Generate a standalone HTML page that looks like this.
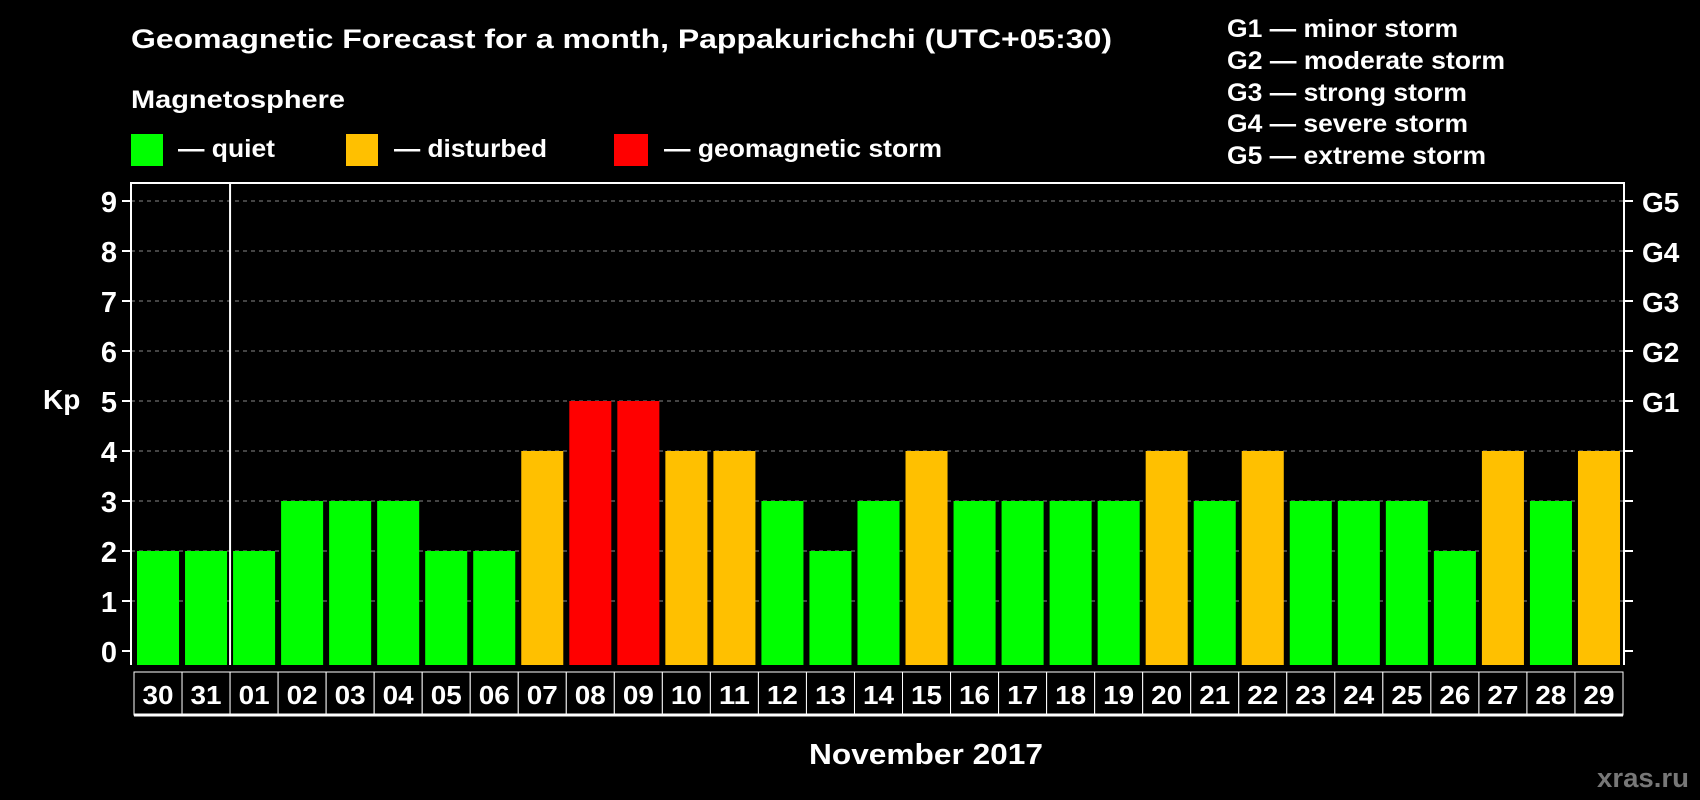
<!DOCTYPE html>
<html><head><meta charset="utf-8"><style>
html,body{margin:0;padding:0;background:#000;}
svg{display:block;font-family:"Liberation Sans",sans-serif;font-weight:bold;}
</style></head><body>
<svg id="chart" width="1700" height="800" viewBox="0 0 1700 800" xmlns="http://www.w3.org/2000/svg">
<rect width="1700" height="800" fill="#000"/>
<text x="131" y="48" fill="#fff" font-size="27" textLength="981" lengthAdjust="spacingAndGlyphs">Geomagnetic Forecast for a month, Pappakurichchi (UTC+05:30)</text>
<text x="131" y="108" fill="#fff" font-size="25" textLength="214" lengthAdjust="spacingAndGlyphs">Magnetosphere</text>
<g><rect x="131" y="134" width="32" height="32" fill="#00ff00"/><text x="178" y="157" fill="#fff" font-size="25" textLength="97" lengthAdjust="spacingAndGlyphs">— quiet</text></g>
<g><rect x="346" y="134" width="32" height="32" fill="#ffc000"/><text x="394" y="157" fill="#fff" font-size="25" textLength="153" lengthAdjust="spacingAndGlyphs">— disturbed</text></g>
<g><rect x="614" y="134" width="34" height="32" fill="#ff0000"/><text x="664" y="157" fill="#fff" font-size="25" textLength="278" lengthAdjust="spacingAndGlyphs">— geomagnetic storm</text></g>
<g fill="#fff" font-size="25" lengthAdjust="spacingAndGlyphs">
<text x="1227" y="37" textLength="231" lengthAdjust="spacingAndGlyphs">G1 — minor storm</text>
<text x="1227" y="69" textLength="278" lengthAdjust="spacingAndGlyphs">G2 — moderate storm</text>
<text x="1227" y="101" textLength="240" lengthAdjust="spacingAndGlyphs">G3 — strong storm</text>
<text x="1227" y="132" textLength="241" lengthAdjust="spacingAndGlyphs">G4 — severe storm</text>
<text x="1227" y="164" textLength="259" lengthAdjust="spacingAndGlyphs">G5 — extreme storm</text>
</g>
<text x="43" y="409" fill="#fff" font-size="28">Kp</text>
<g id="grid"></g>
<g id="bars"></g>
<g id="labels"></g>
<text x="809" y="764" fill="#fff" font-size="29" textLength="234" lengthAdjust="spacingAndGlyphs">November 2017</text>
<text x="1597" y="787" fill="#777" font-size="27" textLength="92" lengthAdjust="spacingAndGlyphs">xras.ru</text>
</svg>
<script>
const days = ["30","31","01","02","03","04","05","06","07","08","09","10","11","12","13","14","15","16","17","18","19","20","21","22","23","24","25","26","27","28","29"];
const kpValues = [2,2,2,3,3,3,2,2,4,5,5,4,4,3,2,3,4,3,3,3,3,4,3,4,3,3,3,2,4,3,4];
const yTicks = [0,1,2,3,4,5,6,7,8,9];
const gLabels = {5:"G1",6:"G2",7:"G3",8:"G4",9:"G5"};
const NS="http://www.w3.org/2000/svg";
const L=131,R=1624,T=183,B=665,Y0=651,U=50;
const BL=134,BR=1623;
const n=days.length, step=(BR-BL)/n;
const yS=v=>Y0-v*U, xS=i=>BL+i*step;
function mk(t,a,p){const e=document.createElementNS(NS,t);for(const k in a)e.setAttribute(k,a[k]);p.appendChild(e);return e;}
const grid=document.getElementById('grid'),bars=document.getElementById('bars'),labels=document.getElementById('labels');
yTicks.forEach(v=>{
  const y=yS(v);
  if(v>0){const g=mk('line',{x1:L,x2:R,y1:y,y2:y,stroke:'#888','stroke-width':1,'stroke-dasharray':'4,4'},grid);
  
  }
  mk('line',{x1:L-9,x2:L,y1:y,y2:y,stroke:'#fff','stroke-width':2},grid);
  mk('line',{x1:R,x2:R+9,y1:y,y2:y,stroke:'#fff','stroke-width':2},grid);
  const t=mk('text',{x:117,y:y+11,fill:'#fff','font-size':29,'text-anchor':'end'},grid);t.textContent=v;
  
  
  if(gLabels[v]){const g2=mk('text',{x:1642,y:y+11,fill:'#fff','font-size':28},grid);g2.textContent=gLabels[v];
  
  }
});
kpValues.forEach((v,i)=>{
  const c=v>=5?'#ff0000':(v>=4?'#ffc000':'#00ff00');
  const r=mk('rect',{x:xS(i)+3,y:yS(v),width:step-6,height:B-yS(v),fill:c},bars);
  
  
  mk('rect',{x:xS(i),y:672,width:step,height:43,fill:'#000',stroke:'#fff','stroke-width':1},labels);
  const t=mk('text',{x:xS(i)+step/2,y:704,fill:'#fff','font-size':26,'text-anchor':'middle',textLength:31,lengthAdjust:'spacingAndGlyphs'},labels);
  t.textContent=days[i];
  
  
});
mk('line',{x1:BL,x2:BR,y1:715,y2:715,stroke:'#fff','stroke-width':3},labels);
mk('polyline',{points:`${L},${B} ${L},${T} ${R},${T} ${R},${B}`,fill:'none',stroke:'#fff','stroke-width':2},grid);
mk('line',{x1:BL+2*step,x2:BL+2*step,y1:T,y2:B,stroke:'#fff','stroke-width':2},grid);
</script>
</body></html>
